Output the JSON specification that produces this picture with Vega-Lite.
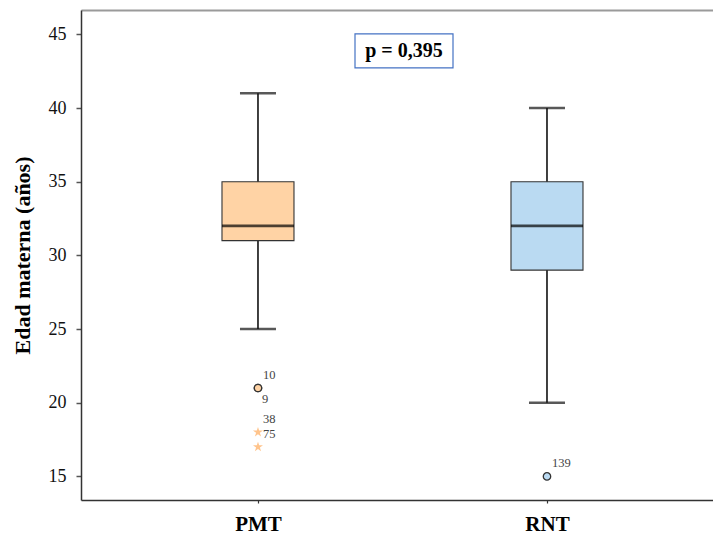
{
  "$schema": "https://vega.github.io/schema/vega-lite/v6.json",
  "width": 632,
  "height": 490,
  "autosize": {"type": "none"},
  "padding": {"left": 81, "top": 10, "right": 0, "bottom": 35},
  "background": "white",
  "config": {
    "view": {"stroke": null},
    "font": "Liberation Serif",
    "text": {"font": "Liberation Serif"}
  },
  "datasets": {
    "cajas": [
      {"grupo": "PMT", "minimo": 25, "q1": 31, "mediana": 32, "q3": 35, "maximo": 41},
      {"grupo": "RNT", "minimo": 20, "q1": 29, "mediana": 32, "q3": 35, "maximo": 40}
    ],
    "atipicos": [
      {"grupo": "PMT", "edad": 21, "caso": "10", "tipo": "atipico"},
      {"grupo": "PMT", "edad": 21, "caso": "9", "tipo": "atipico"},
      {"grupo": "PMT", "edad": 18, "caso": "38", "tipo": "extremo"},
      {"grupo": "PMT", "edad": 17, "caso": "75", "tipo": "extremo"},
      {"grupo": "RNT", "edad": 15, "caso": "139", "tipo": "atipico"}
    ],
    "prueba": [{"texto": "p = 0,395", "y": 43.87}]
  },
  "resolve": {"axis": {"x": "independent", "y": "independent"}},
  "layer": [
    {
      "data": {"name": "cajas"},
      "mark": {"type": "rule", "color": "#111", "strokeWidth": 1.6},
      "encoding": {
        "x": {
          "field": "grupo", "type": "nominal",
          "scale": {"type": "point", "domain": ["PMT", "RNT"], "padding": 0.5934, "align": 0.516},
          "axis": {
            "orient": "bottom", "title": null, "labelAngle": 0,
            "labelFontSize": 21, "labelFontWeight": "bold", "labelColor": "#000",
            "labelPadding": 10, "tickSize": 3, "tickColor": "#333", "tickWidth": 1.2,
            "domainColor": "#333", "domainWidth": 1.5, "grid": false
          }
        },
        "y": {
          "field": "minimo", "type": "quantitative",
          "scale": {"domain": [13.4, 46.65], "nice": false, "zero": false},
          "axis": {
            "orient": "left",
            "title": "Edad materna (años)", "values": [15, 20, 25, 30, 35, 40, 45],
            "grid": false, "tickSize": 5, "tickColor": "#555", "tickWidth": 1.5,
            "domainColor": "#333", "domainWidth": 1.5,
            "labelFontSize": 18, "labelColor": "#111", "labelPadding": 10,
            "titleFontSize": 22, "titleFontWeight": "bold", "titleColor": "#000",
            "titlePadding": 14
          }
        },
        "y2": {"field": "maximo"}
      }
    },
    {
      "data": {"name": "cajas"},
      "mark": {"type": "tick", "color": "#111", "size": 36, "thickness": 2.4},
      "encoding": {
        "x": {
          "field": "grupo", "type": "nominal",
          "axis": {"orient": "top", "title": null, "labels": false, "ticks": false, "domainColor": "#9a9a9a", "domainWidth": 2.2, "grid": false}
        },
        "y": {"field": "minimo", "type": "quantitative", "axis": null}
      }
    },
    {
      "data": {"name": "cajas"},
      "mark": {"type": "tick", "color": "#111", "size": 36, "thickness": 2.4},
      "encoding": {
        "x": {"field": "grupo", "type": "nominal", "axis": null},
        "y": {"field": "maximo", "type": "quantitative", "axis": null}
      }
    },
    {
      "data": {"name": "cajas"},
      "mark": {"type": "bar", "size": 72, "stroke": "#333", "strokeWidth": 1.1, "opacity": 1},
      "encoding": {
        "x": {"field": "grupo", "type": "nominal", "axis": null},
        "y": {"field": "q1", "type": "quantitative", "axis": null},
        "y2": {"field": "q3"},
        "color": {
          "field": "grupo", "type": "nominal",
          "scale": {"domain": ["PMT", "RNT"], "range": ["#FFD3A5", "#BADAF2"]},
          "legend": null
        }
      }
    },
    {
      "data": {"name": "cajas"},
      "mark": {"type": "tick", "color": "#000", "size": 72, "thickness": 2.6},
      "encoding": {
        "x": {"field": "grupo", "type": "nominal", "axis": null},
        "y": {"field": "mediana", "type": "quantitative", "axis": null}
      }
    },
    {
      "data": {"name": "atipicos"},
      "transform": [{"filter": "datum.tipo == 'atipico'"}],
      "mark": {"type": "point", "shape": "circle", "filled": true, "size": 55, "stroke": "#333", "strokeWidth": 1.3, "opacity": 1},
      "encoding": {
        "x": {"field": "grupo", "type": "nominal", "axis": null},
        "y": {"field": "edad", "type": "quantitative", "axis": null},
        "color": {"field": "grupo", "type": "nominal", "legend": null}
      }
    },
    {
      "data": {"name": "atipicos"},
      "transform": [{"filter": "datum.tipo == 'extremo'"}],
      "mark": {
        "type": "point", "filled": true, "size": 110, "color": "#FFC48C", "opacity": 1, "strokeWidth": 0,
        "shape": "M0,-1L0.223,-0.307L0.951,-0.309L0.361,0.117L0.588,0.809L0,0.38L-0.588,0.809L-0.361,0.117L-0.951,-0.309L-0.223,-0.307Z"
      },
      "encoding": {
        "x": {"field": "grupo", "type": "nominal", "axis": null},
        "y": {"field": "edad", "type": "quantitative", "axis": null}
      }
    },
    {
      "data": {"name": "atipicos"},
      "transform": [{"filter": "datum.caso != '9'"}],
      "mark": {"type": "text", "align": "left", "baseline": "middle", "dx": 5, "dy": -13, "fontSize": 12.5, "color": "#444"},
      "encoding": {
        "x": {"field": "grupo", "type": "nominal", "axis": null},
        "y": {"field": "edad", "type": "quantitative", "axis": null},
        "text": {"field": "caso"}
      }
    },
    {
      "data": {"name": "atipicos"},
      "transform": [{"filter": "datum.caso == '9'"}],
      "mark": {"type": "text", "align": "left", "baseline": "middle", "dx": 4, "dy": 11, "fontSize": 12.5, "color": "#444"},
      "encoding": {
        "x": {"field": "grupo", "type": "nominal", "axis": null},
        "y": {"field": "edad", "type": "quantitative", "axis": null},
        "text": {"field": "caso"}
      }
    },
    {
      "data": {"name": "prueba"},
      "mark": {
        "type": "point", "filled": false, "size": 9604, "stroke": "#4472C4", "strokeWidth": 1.2, "opacity": 1, "xOffset": 7,
        "shape": "M-1,-0.347L1,-0.347L1,0.347L-1,0.347Z"
      },
      "encoding": {
        "y": {"field": "y", "type": "quantitative", "axis": null}
      }
    },
    {
      "data": {"name": "prueba"},
      "mark": {"type": "text", "fontSize": 20, "fontWeight": "bold", "color": "#000", "align": "center", "baseline": "middle", "xOffset": 7},
      "encoding": {
        "y": {"field": "y", "type": "quantitative", "axis": null},
        "text": {"field": "texto"}
      }
    }
  ]
}
